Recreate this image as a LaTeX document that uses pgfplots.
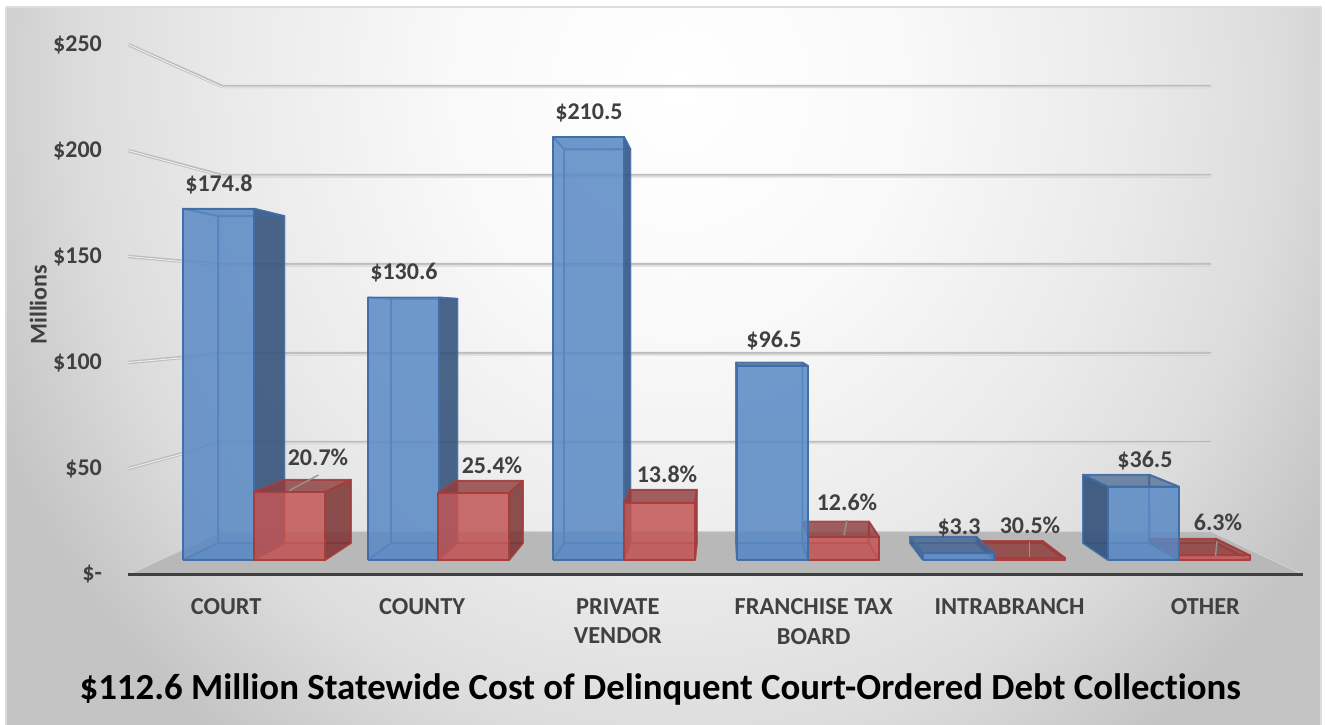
\documentclass[border=0pt]{standalone}
\usepackage{fontspec}
\setmainfont[Ligatures=NoCommon]{Carlito}
\usepackage{pgfplots}
\pgfplotsset{compat=1.18}
\definecolor{txt}{HTML}{404040}
\definecolor{g0}{HTML}{FFFFFF}\definecolor{g1}{HTML}{F9F9F9}\definecolor{g2}{HTML}{EAEAEA}\definecolor{g3}{HTML}{DCDCDC}\definecolor{g4}{HTML}{C4C4C4}
\pgfdeclareradialshading{panelbg}{\pgfpointorigin}{color(0bp)=(g0);color(7.5bp)=(g1);color(15bp)=(g2);color(20bp)=(g3);color(25bp)=(g4);color(50bp)=(g4)}
% faces: b = blue, r = red
\definecolor{Frontb}{HTML}{5888C4}\definecolor{Edgeb}{HTML}{3F6CA8}\definecolor{Sideb}{HTML}{33527A}\definecolor{Topb}{HTML}{44648E}
\definecolor{Frontr}{HTML}{C25656}\definecolor{Edger}{HTML}{A83C3C}\definecolor{Sider}{HTML}{7C3434}\definecolor{Topr}{HTML}{8C3E3E}
% #1 colour set, #2 front left x, #3 value, #4 left side opacity, #5 right side opacity, #6 top opacity
\newcommand\cube[6]{%
  \pgfmathsetmacro\xr{#2+71}%
  \pgfmathsetmacro\bl{.935*#2+47}%
  \pgfmathsetmacro\br{.935*\xr+47}%
  \pgfmathsetmacro\by{8.458+.9303*#3}%
  \edef\bz{8.458}%
  \addplot[draw=Edge#1,line width=.9pt,draw opacity=.55,line join=round,fill=Front#1,fill opacity=.08] coordinates {(\bl,\bz)(\br,\bz)(\br,\by)(\bl,\by)(\bl,\bz)};
  \addplot[draw=Edge#1,line width=.9pt,draw opacity=.6,line join=round,fill=Front#1,fill opacity=.3] coordinates {(#2,0)(\xr,0)(\br,\bz)(\bl,\bz)(#2,0)};
  \addplot[draw=Edge#1,line width=.9pt,draw opacity=.7,line join=round,fill=Side#1,fill opacity=#4] coordinates {(#2,0)(#2,#3)(\bl,\by)(\bl,\bz)(#2,0)};
  \addplot[draw=Edge#1,line width=.9pt,draw opacity=.7,line join=round,fill=Side#1,fill opacity=#5] coordinates {(\xr,0)(\xr,#3)(\br,\by)(\br,\bz)(\xr,0)};
  \addplot[draw=Edge#1,line width=.9pt,draw opacity=.8,line join=round,fill=Top#1,fill opacity=#6] coordinates {(#2,#3)(\xr,#3)(\br,\by)(\bl,\by)(#2,#3)};
  \addplot[draw=Edge#1,line width=.9pt,draw opacity=.9,line join=round,fill=Front#1,fill opacity=.84] coordinates {(#2,0)(\xr,0)(\xr,#3)(#2,#3)(#2,0)};
}
\newcommand\lab[3]{\node[font=\fontsize{12}{14}\selectfont\bfseries,text=txt,inner sep=0pt] at (axis cs:#1,{(560-#2)/2.01}) {#3};}
\newcommand\leader[4]{\addplot[draw=gray!85,line width=.7pt] coordinates {(#1,#2)(#3,#4)};}
\begin{document}
\begin{tikzpicture}[x=1pt,y=1pt]
\useasboundingbox (0,0) rectangle (662.5,362);
\fill[white] (0,-3) rectangle (662.5,362);
\fill[g4] (3,-3) rectangle (660.5,358.5);
\begin{scope}
\clip (3,-3) rectangle (660.5,358.5);
\shade[shading=panelbg] (340,317) ellipse (375 and 410);
\end{scope}
\draw[g3,line width=.8pt] (3,358.5) -- (660.5,358.5);
\draw[g3,line width=.8pt] (660.5,358.5) -- (660.5,-3);
\draw[g3,line width=.8pt] (3,358.5) -- (3,-3);
% axis with the tick labels, the walls and the floor
\begin{axis}[
  at={(65.5,70.5)},anchor=south west,scale only axis,width=587.5pt,height=265pt,
  xmin=0,xmax=6,ymin=0,ymax=250,clip=false,
  axis y line*=left,axis x line*=bottom,
  y axis line style={draw=none},
  x axis line style={draw=none},
  major tick length=0pt,
  xtick={0.5,1.5,2.5,3.5,4.5,5.5},
  xticklabels={COURT,COUNTY,{PRIVATE\\VENDOR},{FRANCHISE TAX\\BOARD},INTRABRANCH,OTHER},
  ytick={0,50,100,150,200,250},
  yticklabels={\$-\hspace{5pt},\$50,\$100,\$150,\$200,\$250},
  xticklabel style={align=center,font=\fontsize{12.2}{14.6}\selectfont\bfseries,text=txt,inner sep=0pt,yshift=-12pt},
  yticklabel style={font=\fontsize{12}{14}\selectfont\bfseries,text=txt,inner sep=0pt,anchor=east,xshift=-13pt},
  ylabel={Millions},
  every axis y label/.style={at={(rel axis cs:-0.0765,0.509)},rotate=90,anchor=center,font=\fontsize{12}{14}\selectfont\bfseries,text=txt},
  xlabel={\$112.6 Million Statewide Cost of Delinquent Court-Ordered Debt Collections},
  every axis x label/.style={at={(rel axis cs:0.4528,-0.217)},anchor=center,font=\fontsize{18.4}{22}\selectfont\bfseries,text=black},
]
\addplot[fill=black!28,draw=black!18,line width=.5pt] coordinates {(0,0)(0.48,20.28)(5.53,20.28)(6,0)(0,0)};
\addplot[draw=black!26,line width=1.7pt] coordinates {(0,50)(0.48,62.3)(5.53,62.3)};
\addplot[draw=black!26,line width=1.7pt] coordinates {(0,100)(0.48,104.2)(5.53,104.2)};
\addplot[draw=black!26,line width=1.7pt] coordinates {(0,150)(0.48,146.2)(5.53,146.2)};
\addplot[draw=black!26,line width=1.7pt] coordinates {(0,200)(0.48,188.2)(5.53,188.2)};
\addplot[draw=black!26,line width=1.7pt] coordinates {(0,250)(0.48,230.2)(5.53,230.2)};
\addplot[draw=black!6,line width=.45pt] coordinates {(0,50)(0.48,62.0)(5.53,62.0)};
\addplot[draw=black!6,line width=.45pt] coordinates {(0,100)(0.48,103.9)(5.53,103.9)};
\addplot[draw=black!6,line width=.45pt] coordinates {(0,150)(0.48,145.9)(5.53,145.9)};
\addplot[draw=black!6,line width=.45pt] coordinates {(0,200)(0.48,187.9)(5.53,187.9)};
\addplot[draw=black!6,line width=.45pt] coordinates {(0,250)(0.48,229.9)(5.53,229.9)};
\addplot[draw=txt,line width=1.7pt] coordinates {(0,0)(6,0)};
\end{axis}
% bars: x in picture pixels, y in millions on the plane of the bars' front faces
\begin{axis}[
  at={(0,0)},anchor=south west,scale only axis,width=662.5pt,height=362pt,
  xmin=0,xmax=1325,ymin=-81.59,ymax=278.61,hide axis,clip=false,
]
\cube{b}{183}{174.8}{0}{.88}{.15}
\cube{r}{254}{33.8}{0}{.85}{.8}
\cube{b}{368}{130.6}{0}{.88}{.15}
\cube{r}{438}{33.3}{0}{.85}{.8}
\cube{b}{553}{210.5}{0}{.88}{.15}
\cube{r}{624}{28.5}{0}{.85}{.8}
\cube{r}{808}{11.5}{0}{0}{.8}
\cube{b}{737}{96.5}{0}{0}{.8}
\cube{r}{994}{1.0}{.6}{0}{.8}
\cube{b}{923}{3.3}{.7}{0}{.8}
\cube{r}{1179}{2.3}{.6}{0}{.8}
\cube{b}{1108}{36.5}{.9}{0}{.7}
\leader{318.5}{42.3}{289}{34.5}
\leader{847}{19.9}{844}{12.4}
\leader{1029.6}{8.9}{1029.6}{1.5}
\leader{1217}{9.4}{1215.5}{2}
\lab{219}{184}{\$174.8}
\lab{404}{273}{\$130.6}
\lab{589}{113}{\$210.5}
\lab{774}{341}{\$96.5}
\lab{959}{528}{\$3.3}
\lab{1145}{461}{\$36.5}
\lab{318}{457}{20.7\%}
\lab{492}{465}{25.4\%}
\lab{667}{474}{13.8\%}
\lab{847}{502}{12.6\%}
\lab{1030}{525}{30.5\%}
\lab{1218}{522}{6.3\%}
\end{axis}
\end{tikzpicture}
\end{document}
